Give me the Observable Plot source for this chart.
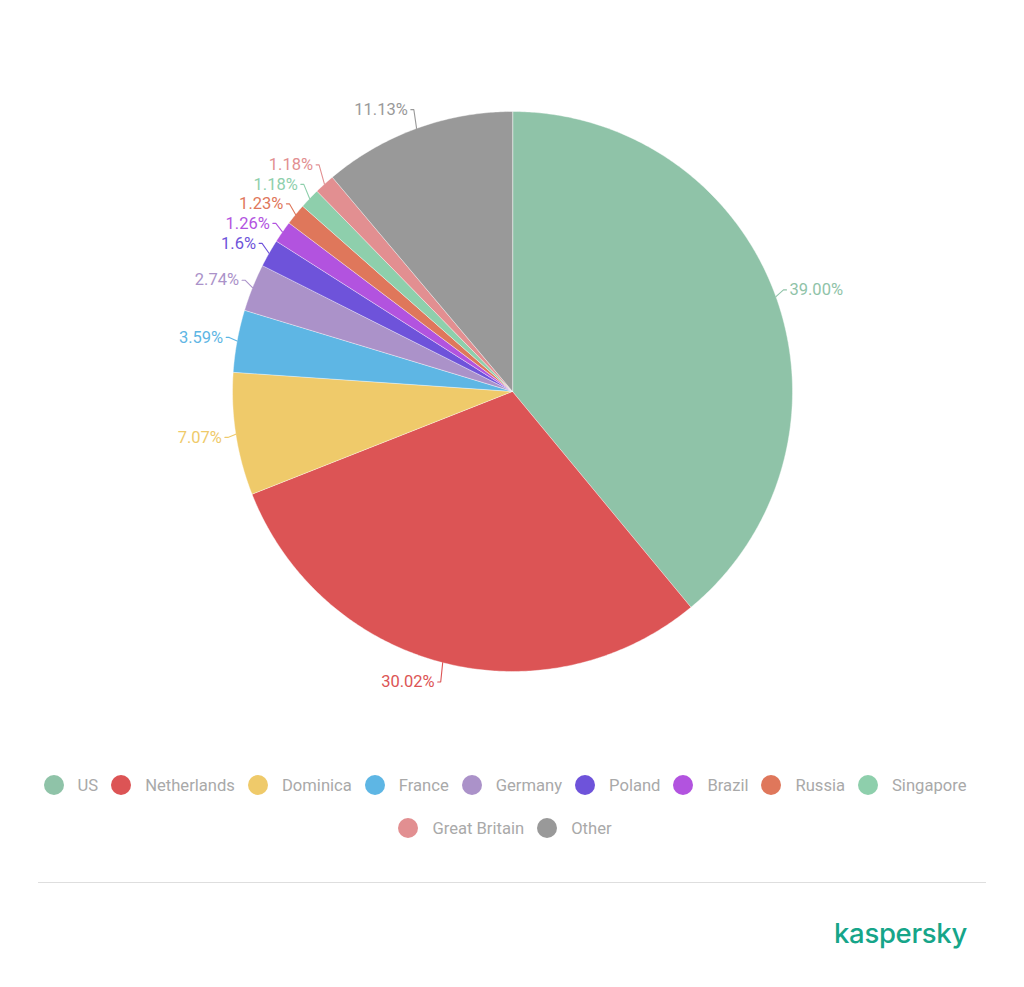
<!DOCTYPE html>
<html>
<head>
<meta charset="utf-8">
<script src="https://cdn.jsdelivr.net/npm/d3@7"></script>
<script src="https://cdn.jsdelivr.net/npm/@observablehq/plot@0.6"></script>
<style>
  html, body { margin: 0; padding: 0; background: #fff; }
  body { width: 1024px; height: 987px; position: relative; font-family: Roboto, "Noto Sans", sans-serif; overflow: hidden; }
  #chart svg { display: block; }
  #legend { position: absolute; top: 772px; left: 15px; width: 980px; display: flex; flex-wrap: wrap; justify-content: center; row-gap: 17px; }
  .item { display: flex; align-items: center; height: 26px; margin: 0 6.5px; }
  .dot { width: 20px; height: 20px; border-radius: 50%; margin-right: 14px; }
  .lab { font-size: 16.6px; color: #a9a9a9; }
  #rule { position: absolute; top: 882px; left: 38px; width: 948px; height: 1px; background: #dedede; }
  #logo { position: absolute; top: 916px; left: 834px; font-family: Inter, "Noto Sans", sans-serif; font-size: 27.5px; font-weight: 500; color: #16a589; letter-spacing: -0.3px; }
</style>
</head>
<body>
<div id="chart"></div>
<div id="legend"></div>
<div id="rule"></div>
<div id="logo">kaspersky</div>
<script>
const countries = ["US", "Netherlands", "Dominica", "France", "Germany", "Poland", "Brazil", "Russia", "Singapore", "Great Britain", "Other"];
const shares = [39.00, 30.02, 7.07, 3.59, 2.74, 1.6, 1.26, 1.23, 1.18, 1.18, 11.13];
const labels = ["39.00%", "30.02%", "7.07%", "3.59%", "2.74%", "1.6%", "1.26%", "1.23%", "1.18%", "1.18%", "11.13%"];
const colors = ["#8fc3a8", "#dc5455", "#efca6a", "#5eb6e4", "#ab92c9", "#6e53da", "#b253df", "#df775b", "#8ecfac", "#e28f91", "#999999"];

const W = 1024, H = 740, CX = 512, CY = 391, R = 280;

const arcs = d3.pie().sort(null).value(d => d.v)(countries.map((name, i) => ({name, v: shares[i], label: labels[i]})));

// slice polygons
const slicePts = [];
for (const a of arcs) {
  const name = a.data.name;
  slicePts.push({name, x: 0, y: 0});
  const n = Math.max(2, Math.ceil((a.endAngle - a.startAngle) / (Math.PI / 360)));
  for (let k = 0; k <= n; k++) {
    const t = a.startAngle + (a.endAngle - a.startAngle) * k / n;
    slicePts.push({name, x: R * Math.sin(t), y: -R * Math.cos(t)});
  }
}

// label layout
const lab = arcs.map(a => {
  const m = (a.startAngle + a.endAngle) / 2;
  const s = Math.sin(m), c = Math.cos(m);
  return {name: a.data.name, text: a.data.label, m, s, c, side: s >= 0 ? "right" : "left", ly: -300 * c};
});
function relax(group, gap) {
  group.sort((p, q) => p.ly - q.ly);
  for (let it = 0; it < 200; it++) {
    let moved = false;
    for (let i = 1; i < group.length; i++) {
      const d = group[i].ly - group[i - 1].ly;
      if (d < gap) {
        const push = (gap - d) / 2;
        group[i - 1].ly -= push; group[i].ly += push; moved = true;
      }
    }
    if (!moved) break;
  }
}
relax(lab.filter(d => d.side === "left"), 19.5);
relax(lab.filter(d => d.side === "right"), 19.5);

const leaders = [];
for (const d of lab) {
  const p0 = {name: d.name, x: R * d.s, y: -R * d.c};
  const p1x = (R + 8) * d.s;
  const dir = d.side === "right" ? 1 : -1;
  d.lx = p1x + dir * 6;
  leaders.push(p0, {name: d.name, x: p1x, y: d.ly}, {name: d.name, x: p1x + dir * 3, y: d.ly});
}

const plot = Plot.plot({
  width: W, height: H,
  margin: 0,
  x: {domain: [-CX, W - CX], range: [0, W], axis: null},
  y: {domain: [-CY, H - CY], range: [0, H], axis: null},
  color: {domain: countries, range: colors},
  style: {fontFamily: "Roboto, 'Noto Sans', sans-serif", background: "#fff"},
  marks: [
    Plot.line(slicePts, {x: "x", y: "y", z: "name", fill: "name", stroke: "#ffffff", strokeWidth: 0.6, strokeOpacity: 0.7, curve: "linear-closed"}),
    Plot.line(leaders, {x: "x", y: "y", z: "name", stroke: "name", strokeWidth: 1.1}),
    Plot.text(lab.filter(d => d.side === "left"), {x: "lx", y: "ly", text: "text", fill: "name", textAnchor: "end", fontSize: 16.5}),
    Plot.text(lab.filter(d => d.side === "right"), {x: "lx", y: "ly", text: "text", fill: "name", textAnchor: "start", fontSize: 16.5})
  ]
});
document.getElementById("chart").appendChild(plot);

const legend = document.getElementById("legend");
countries.forEach((name, i) => {
  const it = document.createElement("div");
  it.className = "item";
  it.innerHTML = `<span class="dot" style="background:${colors[i]}"></span><span class="lab">${name}</span>`;
  legend.appendChild(it);
});
</script>
</body>
</html>
